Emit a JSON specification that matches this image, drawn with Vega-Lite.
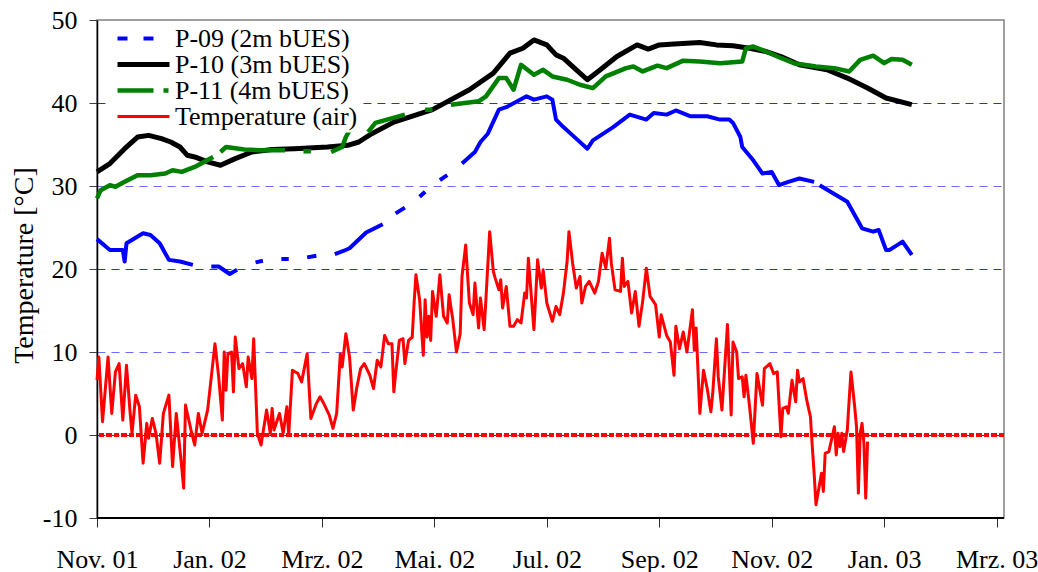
{
"$schema": "https://vega.github.io/schema/vega-lite/v6.json",
"autosize": "none",
"padding": {"left": 97, "top": 20, "right": 34, "bottom": 54},
"width": 907,
"height": 498,
"background": "white",
"config": {
  "font": "Liberation Serif, Times New Roman, Times, DejaVu Serif, serif",
  "view": {"stroke": "#808080", "strokeWidth": 1.5},
  "axis": {"labelFont": "Liberation Serif, Times New Roman, Times, DejaVu Serif, serif", "titleFont": "Liberation Serif, Times New Roman, Times, DejaVu Serif, serif", "labelColor": "black", "titleColor": "black", "titleFontWeight": "normal"}
},
"data": {"values": [
{"date":"2001-11-01","series":"P-09 (2m bUES)","temp":23.6},
{"date":"2001-11-08","series":"P-09 (2m bUES)","temp":22.3},
{"date":"2001-11-15","series":"P-09 (2m bUES)","temp":22.3},
{"date":"2001-11-16","series":"P-09 (2m bUES)","temp":20.9},
{"date":"2001-11-17","series":"P-09 (2m bUES)","temp":23.1},
{"date":"2001-11-26","series":"P-09 (2m bUES)","temp":24.3},
{"date":"2001-11-30","series":"P-09 (2m bUES)","temp":24.1},
{"date":"2001-12-05","series":"P-09 (2m bUES)","temp":23.1},
{"date":"2001-12-10","series":"P-09 (2m bUES)","temp":21.1},
{"date":"2001-12-16","series":"P-09 (2m bUES)","temp":20.9},
{"date":"2001-12-23","series":"P-09 (2m bUES)","temp":20.5},
{"date":"2001-12-28","series":"P-09 (2m bUES)","temp":null},
{"date":"2002-01-02","series":"P-09 (2m bUES)","temp":20.3},
{"date":"2002-01-06","series":"P-09 (2m bUES)","temp":20.3},
{"date":"2002-01-12","series":"P-09 (2m bUES)","temp":19.4},
{"date":"2002-01-16","series":"P-09 (2m bUES)","temp":19.9},
{"date":"2002-01-20","series":"P-09 (2m bUES)","temp":null},
{"date":"2002-01-26","series":"P-09 (2m bUES)","temp":20.8},
{"date":"2002-01-30","series":"P-09 (2m bUES)","temp":21.0},
{"date":"2002-02-03","series":"P-09 (2m bUES)","temp":null},
{"date":"2002-02-09","series":"P-09 (2m bUES)","temp":21.2},
{"date":"2002-02-13","series":"P-09 (2m bUES)","temp":21.2},
{"date":"2002-02-17","series":"P-09 (2m bUES)","temp":null},
{"date":"2002-02-23","series":"P-09 (2m bUES)","temp":21.4},
{"date":"2002-02-28","series":"P-09 (2m bUES)","temp":21.6},
{"date":"2002-03-03","series":"P-09 (2m bUES)","temp":null},
{"date":"2002-03-10","series":"P-09 (2m bUES)","temp":21.8},
{"date":"2002-03-15","series":"P-09 (2m bUES)","temp":22.2},
{"date":"2002-03-18","series":"P-09 (2m bUES)","temp":22.5},
{"date":"2002-03-27","series":"P-09 (2m bUES)","temp":24.4},
{"date":"2002-04-05","series":"P-09 (2m bUES)","temp":25.4},
{"date":"2002-04-08","series":"P-09 (2m bUES)","temp":null},
{"date":"2002-04-12","series":"P-09 (2m bUES)","temp":26.7},
{"date":"2002-04-17","series":"P-09 (2m bUES)","temp":27.4},
{"date":"2002-04-20","series":"P-09 (2m bUES)","temp":null},
{"date":"2002-04-25","series":"P-09 (2m bUES)","temp":28.7},
{"date":"2002-04-28","series":"P-09 (2m bUES)","temp":29.3},
{"date":"2002-05-01","series":"P-09 (2m bUES)","temp":null},
{"date":"2002-05-06","series":"P-09 (2m bUES)","temp":30.7},
{"date":"2002-05-10","series":"P-09 (2m bUES)","temp":31.3},
{"date":"2002-05-13","series":"P-09 (2m bUES)","temp":null},
{"date":"2002-05-18","series":"P-09 (2m bUES)","temp":32.7},
{"date":"2002-05-25","series":"P-09 (2m bUES)","temp":34.1},
{"date":"2002-05-28","series":"P-09 (2m bUES)","temp":35.3},
{"date":"2002-06-01","series":"P-09 (2m bUES)","temp":36.3},
{"date":"2002-06-07","series":"P-09 (2m bUES)","temp":39.2},
{"date":"2002-06-11","series":"P-09 (2m bUES)","temp":39.5},
{"date":"2002-06-17","series":"P-09 (2m bUES)","temp":40.2},
{"date":"2002-06-22","series":"P-09 (2m bUES)","temp":40.8},
{"date":"2002-06-26","series":"P-09 (2m bUES)","temp":40.4},
{"date":"2002-07-03","series":"P-09 (2m bUES)","temp":40.8},
{"date":"2002-07-06","series":"P-09 (2m bUES)","temp":40.4},
{"date":"2002-07-08","series":"P-09 (2m bUES)","temp":38.0},
{"date":"2002-07-12","series":"P-09 (2m bUES)","temp":37.1},
{"date":"2002-07-17","series":"P-09 (2m bUES)","temp":36.1},
{"date":"2002-07-25","series":"P-09 (2m bUES)","temp":34.5},
{"date":"2002-07-28","series":"P-09 (2m bUES)","temp":35.5},
{"date":"2002-08-08","series":"P-09 (2m bUES)","temp":37.1},
{"date":"2002-08-17","series":"P-09 (2m bUES)","temp":38.6},
{"date":"2002-08-26","series":"P-09 (2m bUES)","temp":38.0},
{"date":"2002-08-30","series":"P-09 (2m bUES)","temp":38.8},
{"date":"2002-09-06","series":"P-09 (2m bUES)","temp":38.6},
{"date":"2002-09-11","series":"P-09 (2m bUES)","temp":39.1},
{"date":"2002-09-19","series":"P-09 (2m bUES)","temp":38.4},
{"date":"2002-09-28","series":"P-09 (2m bUES)","temp":38.4},
{"date":"2002-10-05","series":"P-09 (2m bUES)","temp":38.0},
{"date":"2002-10-10","series":"P-09 (2m bUES)","temp":38.0},
{"date":"2002-10-12","series":"P-09 (2m bUES)","temp":37.6},
{"date":"2002-10-16","series":"P-09 (2m bUES)","temp":35.9},
{"date":"2002-10-17","series":"P-09 (2m bUES)","temp":34.7},
{"date":"2002-10-23","series":"P-09 (2m bUES)","temp":33.1},
{"date":"2002-10-28","series":"P-09 (2m bUES)","temp":31.5},
{"date":"2002-11-02","series":"P-09 (2m bUES)","temp":31.7},
{"date":"2002-11-06","series":"P-09 (2m bUES)","temp":30.1},
{"date":"2002-11-11","series":"P-09 (2m bUES)","temp":30.5},
{"date":"2002-11-17","series":"P-09 (2m bUES)","temp":30.9},
{"date":"2002-11-25","series":"P-09 (2m bUES)","temp":30.5},
{"date":"2002-11-26","series":"P-09 (2m bUES)","temp":null},
{"date":"2002-11-28","series":"P-09 (2m bUES)","temp":30.1},
{"date":"2002-12-13","series":"P-09 (2m bUES)","temp":28.1},
{"date":"2002-12-21","series":"P-09 (2m bUES)","temp":24.9},
{"date":"2002-12-27","series":"P-09 (2m bUES)","temp":24.5},
{"date":"2002-12-30","series":"P-09 (2m bUES)","temp":24.7},
{"date":"2003-01-03","series":"P-09 (2m bUES)","temp":22.3},
{"date":"2003-01-05","series":"P-09 (2m bUES)","temp":22.3},
{"date":"2003-01-12","series":"P-09 (2m bUES)","temp":23.3},
{"date":"2003-01-17","series":"P-09 (2m bUES)","temp":21.7},
{"date":"2001-11-01","series":"P-10 (3m bUES)","temp":31.7},
{"date":"2001-11-08","series":"P-10 (3m bUES)","temp":32.7},
{"date":"2001-11-16","series":"P-10 (3m bUES)","temp":34.5},
{"date":"2001-11-23","series":"P-10 (3m bUES)","temp":35.9},
{"date":"2001-11-29","series":"P-10 (3m bUES)","temp":36.1},
{"date":"2001-12-06","series":"P-10 (3m bUES)","temp":35.7},
{"date":"2001-12-11","series":"P-10 (3m bUES)","temp":35.3},
{"date":"2001-12-16","series":"P-10 (3m bUES)","temp":34.7},
{"date":"2001-12-20","series":"P-10 (3m bUES)","temp":33.7},
{"date":"2001-12-24","series":"P-10 (3m bUES)","temp":33.5},
{"date":"2001-12-31","series":"P-10 (3m bUES)","temp":32.9},
{"date":"2002-01-07","series":"P-10 (3m bUES)","temp":32.5},
{"date":"2002-01-15","series":"P-10 (3m bUES)","temp":33.3},
{"date":"2002-01-24","series":"P-10 (3m bUES)","temp":34.1},
{"date":"2002-02-04","series":"P-10 (3m bUES)","temp":34.4},
{"date":"2002-02-16","series":"P-10 (3m bUES)","temp":34.5},
{"date":"2002-03-06","series":"P-10 (3m bUES)","temp":34.7},
{"date":"2002-03-17","series":"P-10 (3m bUES)","temp":34.9},
{"date":"2002-03-23","series":"P-10 (3m bUES)","temp":35.3},
{"date":"2002-03-30","series":"P-10 (3m bUES)","temp":36.3},
{"date":"2002-04-11","series":"P-10 (3m bUES)","temp":37.7},
{"date":"2002-05-02","series":"P-10 (3m bUES)","temp":39.2},
{"date":"2002-05-22","series":"P-10 (3m bUES)","temp":41.6},
{"date":"2002-06-04","series":"P-10 (3m bUES)","temp":43.6},
{"date":"2002-06-13","series":"P-10 (3m bUES)","temp":46.0},
{"date":"2002-06-20","series":"P-10 (3m bUES)","temp":46.6},
{"date":"2002-06-26","series":"P-10 (3m bUES)","temp":47.6},
{"date":"2002-07-03","series":"P-10 (3m bUES)","temp":47.0},
{"date":"2002-07-08","series":"P-10 (3m bUES)","temp":45.8},
{"date":"2002-07-12","series":"P-10 (3m bUES)","temp":45.4},
{"date":"2002-07-19","series":"P-10 (3m bUES)","temp":44.0},
{"date":"2002-07-25","series":"P-10 (3m bUES)","temp":42.8},
{"date":"2002-08-01","series":"P-10 (3m bUES)","temp":44.0},
{"date":"2002-08-10","series":"P-10 (3m bUES)","temp":45.6},
{"date":"2002-08-21","series":"P-10 (3m bUES)","temp":47.0},
{"date":"2002-08-27","series":"P-10 (3m bUES)","temp":46.5},
{"date":"2002-09-02","series":"P-10 (3m bUES)","temp":47.0},
{"date":"2002-09-10","series":"P-10 (3m bUES)","temp":47.1},
{"date":"2002-09-24","series":"P-10 (3m bUES)","temp":47.3},
{"date":"2002-10-03","series":"P-10 (3m bUES)","temp":47.0},
{"date":"2002-10-12","series":"P-10 (3m bUES)","temp":46.9},
{"date":"2002-10-21","series":"P-10 (3m bUES)","temp":46.6},
{"date":"2002-10-30","series":"P-10 (3m bUES)","temp":46.2},
{"date":"2002-11-07","series":"P-10 (3m bUES)","temp":45.6},
{"date":"2002-11-17","series":"P-10 (3m bUES)","temp":44.6},
{"date":"2002-12-02","series":"P-10 (3m bUES)","temp":44.0},
{"date":"2002-12-13","series":"P-10 (3m bUES)","temp":43.0},
{"date":"2002-12-24","series":"P-10 (3m bUES)","temp":41.8},
{"date":"2003-01-03","series":"P-10 (3m bUES)","temp":40.6},
{"date":"2003-01-17","series":"P-10 (3m bUES)","temp":39.8},
{"date":"2001-11-01","series":"P-11 (4m bUES)","temp":28.5},
{"date":"2001-11-03","series":"P-11 (4m bUES)","temp":29.5},
{"date":"2001-11-08","series":"P-11 (4m bUES)","temp":30.1},
{"date":"2001-11-11","series":"P-11 (4m bUES)","temp":29.9},
{"date":"2001-11-16","series":"P-11 (4m bUES)","temp":30.5},
{"date":"2001-11-23","series":"P-11 (4m bUES)","temp":31.3},
{"date":"2001-11-30","series":"P-11 (4m bUES)","temp":31.3},
{"date":"2001-12-08","series":"P-11 (4m bUES)","temp":31.5},
{"date":"2001-12-12","series":"P-11 (4m bUES)","temp":31.9},
{"date":"2001-12-17","series":"P-11 (4m bUES)","temp":31.7},
{"date":"2001-12-24","series":"P-11 (4m bUES)","temp":32.3},
{"date":"2002-01-03","series":"P-11 (4m bUES)","temp":33.5},
{"date":"2002-01-05","series":"P-11 (4m bUES)","temp":null},
{"date":"2002-01-07","series":"P-11 (4m bUES)","temp":34.1},
{"date":"2002-01-10","series":"P-11 (4m bUES)","temp":34.7},
{"date":"2002-01-20","series":"P-11 (4m bUES)","temp":34.4},
{"date":"2002-01-29","series":"P-11 (4m bUES)","temp":34.3},
{"date":"2002-02-11","series":"P-11 (4m bUES)","temp":34.3},
{"date":"2002-02-12","series":"P-11 (4m bUES)","temp":null},
{"date":"2002-02-21","series":"P-11 (4m bUES)","temp":34.2},
{"date":"2002-02-25","series":"P-11 (4m bUES)","temp":34.2},
{"date":"2002-02-26","series":"P-11 (4m bUES)","temp":null},
{"date":"2002-03-08","series":"P-11 (4m bUES)","temp":34.1},
{"date":"2002-03-14","series":"P-11 (4m bUES)","temp":34.7},
{"date":"2002-03-16","series":"P-11 (4m bUES)","temp":35.9},
{"date":"2002-03-18","series":"P-11 (4m bUES)","temp":36.7},
{"date":"2002-03-20","series":"P-11 (4m bUES)","temp":null},
{"date":"2002-03-28","series":"P-11 (4m bUES)","temp":36.5},
{"date":"2002-04-01","series":"P-11 (4m bUES)","temp":37.6},
{"date":"2002-04-17","series":"P-11 (4m bUES)","temp":38.6},
{"date":"2002-04-20","series":"P-11 (4m bUES)","temp":null},
{"date":"2002-04-28","series":"P-11 (4m bUES)","temp":39.2},
{"date":"2002-05-02","series":"P-11 (4m bUES)","temp":39.2},
{"date":"2002-05-05","series":"P-11 (4m bUES)","temp":null},
{"date":"2002-05-12","series":"P-11 (4m bUES)","temp":39.8},
{"date":"2002-05-27","series":"P-11 (4m bUES)","temp":40.2},
{"date":"2002-05-31","series":"P-11 (4m bUES)","temp":40.8},
{"date":"2002-06-07","series":"P-11 (4m bUES)","temp":43.0},
{"date":"2002-06-11","series":"P-11 (4m bUES)","temp":43.0},
{"date":"2002-06-15","series":"P-11 (4m bUES)","temp":41.6},
{"date":"2002-06-19","series":"P-11 (4m bUES)","temp":44.6},
{"date":"2002-06-26","series":"P-11 (4m bUES)","temp":43.4},
{"date":"2002-07-01","series":"P-11 (4m bUES)","temp":44.0},
{"date":"2002-07-06","series":"P-11 (4m bUES)","temp":43.2},
{"date":"2002-07-14","series":"P-11 (4m bUES)","temp":42.8},
{"date":"2002-07-21","series":"P-11 (4m bUES)","temp":42.2},
{"date":"2002-07-28","series":"P-11 (4m bUES)","temp":41.8},
{"date":"2002-08-04","series":"P-11 (4m bUES)","temp":43.2},
{"date":"2002-08-15","series":"P-11 (4m bUES)","temp":44.2},
{"date":"2002-08-19","series":"P-11 (4m bUES)","temp":44.4},
{"date":"2002-08-24","series":"P-11 (4m bUES)","temp":43.8},
{"date":"2002-09-01","series":"P-11 (4m bUES)","temp":44.5},
{"date":"2002-09-06","series":"P-11 (4m bUES)","temp":44.2},
{"date":"2002-09-15","series":"P-11 (4m bUES)","temp":45.1},
{"date":"2002-09-24","series":"P-11 (4m bUES)","temp":45.0},
{"date":"2002-10-05","series":"P-11 (4m bUES)","temp":44.8},
{"date":"2002-10-17","series":"P-11 (4m bUES)","temp":45.0},
{"date":"2002-10-19","series":"P-11 (4m bUES)","temp":46.6},
{"date":"2002-10-23","series":"P-11 (4m bUES)","temp":46.8},
{"date":"2002-10-30","series":"P-11 (4m bUES)","temp":46.2},
{"date":"2002-11-05","series":"P-11 (4m bUES)","temp":45.6},
{"date":"2002-11-14","series":"P-11 (4m bUES)","temp":44.8},
{"date":"2002-11-26","series":"P-11 (4m bUES)","temp":44.4},
{"date":"2002-12-06","series":"P-11 (4m bUES)","temp":44.2},
{"date":"2002-12-14","series":"P-11 (4m bUES)","temp":43.8},
{"date":"2002-12-20","series":"P-11 (4m bUES)","temp":45.2},
{"date":"2002-12-27","series":"P-11 (4m bUES)","temp":45.7},
{"date":"2003-01-02","series":"P-11 (4m bUES)","temp":44.8},
{"date":"2003-01-06","series":"P-11 (4m bUES)","temp":45.3},
{"date":"2003-01-12","series":"P-11 (4m bUES)","temp":45.2},
{"date":"2003-01-17","series":"P-11 (4m bUES)","temp":44.6},
{"date":"2001-11-01","series":"Temperature (air)","temp":6.6},
{"date":"2001-11-02","series":"Temperature (air)","temp":9.4},
{"date":"2001-11-04","series":"Temperature (air)","temp":1.6},
{"date":"2001-11-07","series":"Temperature (air)","temp":9.4},
{"date":"2001-11-09","series":"Temperature (air)","temp":2.6},
{"date":"2001-11-11","series":"Temperature (air)","temp":7.6},
{"date":"2001-11-13","series":"Temperature (air)","temp":8.6},
{"date":"2001-11-15","series":"Temperature (air)","temp":1.8},
{"date":"2001-11-17","series":"Temperature (air)","temp":8.4},
{"date":"2001-11-19","series":"Temperature (air)","temp":2.6},
{"date":"2001-11-20","series":"Temperature (air)","temp":0.2},
{"date":"2001-11-22","series":"Temperature (air)","temp":4.8},
{"date":"2001-11-24","series":"Temperature (air)","temp":3.4},
{"date":"2001-11-26","series":"Temperature (air)","temp":-3.4},
{"date":"2001-11-28","series":"Temperature (air)","temp":1.4},
{"date":"2001-11-29","series":"Temperature (air)","temp":-0.4},
{"date":"2001-12-01","series":"Temperature (air)","temp":2.0},
{"date":"2001-12-03","series":"Temperature (air)","temp":0.2},
{"date":"2001-12-05","series":"Temperature (air)","temp":-3.4},
{"date":"2001-12-07","series":"Temperature (air)","temp":2.6},
{"date":"2001-12-10","series":"Temperature (air)","temp":4.8},
{"date":"2001-12-12","series":"Temperature (air)","temp":-3.8},
{"date":"2001-12-14","series":"Temperature (air)","temp":2.6},
{"date":"2001-12-17","series":"Temperature (air)","temp":-4.0},
{"date":"2001-12-18","series":"Temperature (air)","temp":-6.4},
{"date":"2001-12-19","series":"Temperature (air)","temp":3.6},
{"date":"2001-12-22","series":"Temperature (air)","temp":0.6},
{"date":"2001-12-24","series":"Temperature (air)","temp":-1.2},
{"date":"2001-12-26","series":"Temperature (air)","temp":2.6},
{"date":"2001-12-28","series":"Temperature (air)","temp":0.2},
{"date":"2001-12-31","series":"Temperature (air)","temp":3.0},
{"date":"2002-01-04","series":"Temperature (air)","temp":11.0},
{"date":"2002-01-06","series":"Temperature (air)","temp":7.0},
{"date":"2002-01-08","series":"Temperature (air)","temp":1.8},
{"date":"2002-01-09","series":"Temperature (air)","temp":10.0},
{"date":"2002-01-10","series":"Temperature (air)","temp":5.4},
{"date":"2002-01-11","series":"Temperature (air)","temp":9.8},
{"date":"2002-01-13","series":"Temperature (air)","temp":10.0},
{"date":"2002-01-14","series":"Temperature (air)","temp":5.2},
{"date":"2002-01-15","series":"Temperature (air)","temp":11.8},
{"date":"2002-01-17","series":"Temperature (air)","temp":8.0},
{"date":"2002-01-19","series":"Temperature (air)","temp":8.6},
{"date":"2002-01-21","series":"Temperature (air)","temp":5.8},
{"date":"2002-01-22","series":"Temperature (air)","temp":9.4},
{"date":"2002-01-24","series":"Temperature (air)","temp":6.8},
{"date":"2002-01-25","series":"Temperature (air)","temp":11.6},
{"date":"2002-01-27","series":"Temperature (air)","temp":0.2},
{"date":"2002-01-29","series":"Temperature (air)","temp":-1.2},
{"date":"2002-02-01","series":"Temperature (air)","temp":3.0},
{"date":"2002-02-03","series":"Temperature (air)","temp":0.2},
{"date":"2002-02-04","series":"Temperature (air)","temp":3.2},
{"date":"2002-02-05","series":"Temperature (air)","temp":0.6},
{"date":"2002-02-08","series":"Temperature (air)","temp":2.6},
{"date":"2002-02-10","series":"Temperature (air)","temp":0.2},
{"date":"2002-02-12","series":"Temperature (air)","temp":3.4},
{"date":"2002-02-13","series":"Temperature (air)","temp":0.0},
{"date":"2002-02-15","series":"Temperature (air)","temp":7.8},
{"date":"2002-02-18","series":"Temperature (air)","temp":7.4},
{"date":"2002-02-20","series":"Temperature (air)","temp":6.4},
{"date":"2002-02-23","series":"Temperature (air)","temp":9.8},
{"date":"2002-02-25","series":"Temperature (air)","temp":2.0},
{"date":"2002-02-28","series":"Temperature (air)","temp":3.8},
{"date":"2002-03-02","series":"Temperature (air)","temp":4.6},
{"date":"2002-03-04","series":"Temperature (air)","temp":3.8},
{"date":"2002-03-07","series":"Temperature (air)","temp":2.4},
{"date":"2002-03-09","series":"Temperature (air)","temp":0.8},
{"date":"2002-03-11","series":"Temperature (air)","temp":2.6},
{"date":"2002-03-13","series":"Temperature (air)","temp":9.8},
{"date":"2002-03-14","series":"Temperature (air)","temp":8.2},
{"date":"2002-03-16","series":"Temperature (air)","temp":12.2},
{"date":"2002-03-18","series":"Temperature (air)","temp":9.4},
{"date":"2002-03-20","series":"Temperature (air)","temp":3.0},
{"date":"2002-03-22","series":"Temperature (air)","temp":5.8},
{"date":"2002-03-24","series":"Temperature (air)","temp":8.0},
{"date":"2002-03-26","series":"Temperature (air)","temp":8.6},
{"date":"2002-03-29","series":"Temperature (air)","temp":7.2},
{"date":"2002-03-31","series":"Temperature (air)","temp":5.6},
{"date":"2002-04-02","series":"Temperature (air)","temp":9.0},
{"date":"2002-04-04","series":"Temperature (air)","temp":8.2},
{"date":"2002-04-06","series":"Temperature (air)","temp":12.0},
{"date":"2002-04-08","series":"Temperature (air)","temp":11.0},
{"date":"2002-04-10","series":"Temperature (air)","temp":11.0},
{"date":"2002-04-11","series":"Temperature (air)","temp":5.2},
{"date":"2002-04-12","series":"Temperature (air)","temp":7.4},
{"date":"2002-04-14","series":"Temperature (air)","temp":11.4},
{"date":"2002-04-16","series":"Temperature (air)","temp":11.6},
{"date":"2002-04-17","series":"Temperature (air)","temp":8.6},
{"date":"2002-04-19","series":"Temperature (air)","temp":11.4},
{"date":"2002-04-21","series":"Temperature (air)","temp":11.8},
{"date":"2002-04-22","series":"Temperature (air)","temp":15.9},
{"date":"2002-04-23","series":"Temperature (air)","temp":19.3},
{"date":"2002-04-25","series":"Temperature (air)","temp":16.3},
{"date":"2002-04-27","series":"Temperature (air)","temp":9.6},
{"date":"2002-04-28","series":"Temperature (air)","temp":16.3},
{"date":"2002-04-29","series":"Temperature (air)","temp":11.8},
{"date":"2002-04-30","series":"Temperature (air)","temp":14.3},
{"date":"2002-05-01","series":"Temperature (air)","temp":11.4},
{"date":"2002-05-02","series":"Temperature (air)","temp":17.3},
{"date":"2002-05-04","series":"Temperature (air)","temp":14.3},
{"date":"2002-05-06","series":"Temperature (air)","temp":19.3},
{"date":"2002-05-08","series":"Temperature (air)","temp":14.3},
{"date":"2002-05-10","series":"Temperature (air)","temp":13.5},
{"date":"2002-05-11","series":"Temperature (air)","temp":16.9},
{"date":"2002-05-13","series":"Temperature (air)","temp":13.9},
{"date":"2002-05-15","series":"Temperature (air)","temp":10.0},
{"date":"2002-05-17","series":"Temperature (air)","temp":12.2},
{"date":"2002-05-18","series":"Temperature (air)","temp":19.1},
{"date":"2002-05-20","series":"Temperature (air)","temp":22.9},
{"date":"2002-05-22","series":"Temperature (air)","temp":15.9},
{"date":"2002-05-24","series":"Temperature (air)","temp":14.5},
{"date":"2002-05-25","series":"Temperature (air)","temp":18.3},
{"date":"2002-05-27","series":"Temperature (air)","temp":12.9},
{"date":"2002-05-28","series":"Temperature (air)","temp":16.5},
{"date":"2002-05-30","series":"Temperature (air)","temp":12.7},
{"date":"2002-05-31","series":"Temperature (air)","temp":16.5},
{"date":"2002-06-02","series":"Temperature (air)","temp":24.5},
{"date":"2002-06-04","series":"Temperature (air)","temp":19.7},
{"date":"2002-06-05","series":"Temperature (air)","temp":18.9},
{"date":"2002-06-07","series":"Temperature (air)","temp":17.5},
{"date":"2002-06-08","series":"Temperature (air)","temp":18.7},
{"date":"2002-06-09","series":"Temperature (air)","temp":15.3},
{"date":"2002-06-11","series":"Temperature (air)","temp":17.9},
{"date":"2002-06-13","series":"Temperature (air)","temp":13.1},
{"date":"2002-06-15","series":"Temperature (air)","temp":13.1},
{"date":"2002-06-17","series":"Temperature (air)","temp":13.9},
{"date":"2002-06-19","series":"Temperature (air)","temp":13.5},
{"date":"2002-06-21","series":"Temperature (air)","temp":17.1},
{"date":"2002-06-22","series":"Temperature (air)","temp":16.5},
{"date":"2002-06-23","series":"Temperature (air)","temp":21.3},
{"date":"2002-06-26","series":"Temperature (air)","temp":12.7},
{"date":"2002-06-28","series":"Temperature (air)","temp":21.1},
{"date":"2002-06-30","series":"Temperature (air)","temp":17.7},
{"date":"2002-07-01","series":"Temperature (air)","temp":19.9},
{"date":"2002-07-03","series":"Temperature (air)","temp":15.9},
{"date":"2002-07-06","series":"Temperature (air)","temp":13.7},
{"date":"2002-07-08","series":"Temperature (air)","temp":15.5},
{"date":"2002-07-10","series":"Temperature (air)","temp":14.5},
{"date":"2002-07-12","series":"Temperature (air)","temp":17.1},
{"date":"2002-07-14","series":"Temperature (air)","temp":20.9},
{"date":"2002-07-15","series":"Temperature (air)","temp":24.5},
{"date":"2002-07-17","series":"Temperature (air)","temp":20.7},
{"date":"2002-07-19","series":"Temperature (air)","temp":17.7},
{"date":"2002-07-21","series":"Temperature (air)","temp":19.1},
{"date":"2002-07-22","series":"Temperature (air)","temp":15.9},
{"date":"2002-07-24","series":"Temperature (air)","temp":17.9},
{"date":"2002-07-26","series":"Temperature (air)","temp":18.5},
{"date":"2002-07-29","series":"Temperature (air)","temp":17.1},
{"date":"2002-07-31","series":"Temperature (air)","temp":18.5},
{"date":"2002-08-02","series":"Temperature (air)","temp":21.9},
{"date":"2002-08-04","series":"Temperature (air)","temp":20.1},
{"date":"2002-08-06","series":"Temperature (air)","temp":23.7},
{"date":"2002-08-07","series":"Temperature (air)","temp":20.7},
{"date":"2002-08-09","series":"Temperature (air)","temp":17.5},
{"date":"2002-08-12","series":"Temperature (air)","temp":17.3},
{"date":"2002-08-13","series":"Temperature (air)","temp":21.3},
{"date":"2002-08-14","series":"Temperature (air)","temp":17.9},
{"date":"2002-08-16","series":"Temperature (air)","temp":18.5},
{"date":"2002-08-18","series":"Temperature (air)","temp":14.7},
{"date":"2002-08-20","series":"Temperature (air)","temp":17.3},
{"date":"2002-08-22","series":"Temperature (air)","temp":13.1},
{"date":"2002-08-24","series":"Temperature (air)","temp":16.1},
{"date":"2002-08-26","series":"Temperature (air)","temp":20.1},
{"date":"2002-08-28","series":"Temperature (air)","temp":16.7},
{"date":"2002-08-31","series":"Temperature (air)","temp":15.7},
{"date":"2002-09-02","series":"Temperature (air)","temp":11.8},
{"date":"2002-09-03","series":"Temperature (air)","temp":14.5},
{"date":"2002-09-04","series":"Temperature (air)","temp":13.7},
{"date":"2002-09-06","series":"Temperature (air)","temp":12.0},
{"date":"2002-09-08","series":"Temperature (air)","temp":11.2},
{"date":"2002-09-10","series":"Temperature (air)","temp":7.2},
{"date":"2002-09-11","series":"Temperature (air)","temp":13.1},
{"date":"2002-09-13","series":"Temperature (air)","temp":10.4},
{"date":"2002-09-15","series":"Temperature (air)","temp":12.4},
{"date":"2002-09-17","series":"Temperature (air)","temp":10.0},
{"date":"2002-09-20","series":"Temperature (air)","temp":15.1},
{"date":"2002-09-21","series":"Temperature (air)","temp":10.2},
{"date":"2002-09-22","series":"Temperature (air)","temp":12.9},
{"date":"2002-09-24","series":"Temperature (air)","temp":2.6},
{"date":"2002-09-26","series":"Temperature (air)","temp":7.8},
{"date":"2002-09-28","series":"Temperature (air)","temp":5.6},
{"date":"2002-09-30","series":"Temperature (air)","temp":2.8},
{"date":"2002-10-01","series":"Temperature (air)","temp":5.0},
{"date":"2002-10-03","series":"Temperature (air)","temp":11.6},
{"date":"2002-10-04","series":"Temperature (air)","temp":7.0},
{"date":"2002-10-06","series":"Temperature (air)","temp":3.0},
{"date":"2002-10-09","series":"Temperature (air)","temp":13.3},
{"date":"2002-10-11","series":"Temperature (air)","temp":2.4},
{"date":"2002-10-12","series":"Temperature (air)","temp":11.2},
{"date":"2002-10-14","series":"Temperature (air)","temp":10.0},
{"date":"2002-10-15","series":"Temperature (air)","temp":6.8},
{"date":"2002-10-17","series":"Temperature (air)","temp":7.0},
{"date":"2002-10-18","series":"Temperature (air)","temp":4.6},
{"date":"2002-10-19","series":"Temperature (air)","temp":7.2},
{"date":"2002-10-21","series":"Temperature (air)","temp":3.4},
{"date":"2002-10-23","series":"Temperature (air)","temp":-1.0},
{"date":"2002-10-25","series":"Temperature (air)","temp":7.4},
{"date":"2002-10-28","series":"Temperature (air)","temp":3.6},
{"date":"2002-10-29","series":"Temperature (air)","temp":8.0},
{"date":"2002-11-01","series":"Temperature (air)","temp":8.6},
{"date":"2002-11-03","series":"Temperature (air)","temp":7.4},
{"date":"2002-11-05","series":"Temperature (air)","temp":7.6},
{"date":"2002-11-07","series":"Temperature (air)","temp":-0.2},
{"date":"2002-11-08","series":"Temperature (air)","temp":3.2},
{"date":"2002-11-10","series":"Temperature (air)","temp":3.4},
{"date":"2002-11-11","series":"Temperature (air)","temp":2.6},
{"date":"2002-11-13","series":"Temperature (air)","temp":6.6},
{"date":"2002-11-15","series":"Temperature (air)","temp":4.0},
{"date":"2002-11-16","series":"Temperature (air)","temp":7.8},
{"date":"2002-11-17","series":"Temperature (air)","temp":6.4},
{"date":"2002-11-19","series":"Temperature (air)","temp":6.8},
{"date":"2002-11-21","series":"Temperature (air)","temp":4.2},
{"date":"2002-11-23","series":"Temperature (air)","temp":2.2},
{"date":"2002-11-24","series":"Temperature (air)","temp":-1.4},
{"date":"2002-11-25","series":"Temperature (air)","temp":-4.6},
{"date":"2002-11-26","series":"Temperature (air)","temp":-8.4},
{"date":"2002-11-29","series":"Temperature (air)","temp":-4.6},
{"date":"2002-11-30","series":"Temperature (air)","temp":-6.8},
{"date":"2002-12-01","series":"Temperature (air)","temp":-2.2},
{"date":"2002-12-03","series":"Temperature (air)","temp":-2.0},
{"date":"2002-12-04","series":"Temperature (air)","temp":-1.0},
{"date":"2002-12-06","series":"Temperature (air)","temp":1.0},
{"date":"2002-12-07","series":"Temperature (air)","temp":-2.4},
{"date":"2002-12-08","series":"Temperature (air)","temp":0.2},
{"date":"2002-12-09","series":"Temperature (air)","temp":-1.4},
{"date":"2002-12-10","series":"Temperature (air)","temp":0.2},
{"date":"2002-12-11","series":"Temperature (air)","temp":-2.0},
{"date":"2002-12-13","series":"Temperature (air)","temp":0.6},
{"date":"2002-12-14","series":"Temperature (air)","temp":4.2},
{"date":"2002-12-15","series":"Temperature (air)","temp":7.6},
{"date":"2002-12-17","series":"Temperature (air)","temp":3.4},
{"date":"2002-12-18","series":"Temperature (air)","temp":1.0},
{"date":"2002-12-19","series":"Temperature (air)","temp":-7.0},
{"date":"2002-12-20","series":"Temperature (air)","temp":0.2},
{"date":"2002-12-21","series":"Temperature (air)","temp":1.4},
{"date":"2002-12-22","series":"Temperature (air)","temp":-1.0},
{"date":"2002-12-23","series":"Temperature (air)","temp":-7.6},
{"date":"2002-12-24","series":"Temperature (air)","temp":-0.8}
]},
"layer": [
  {
    "mark": {"type": "rule", "color": "#ff0000", "strokeWidth": 4, "strokeDash": [5, 2.5]},
    "encoding": {"y": {"datum": 0, "type": "quantitative"}}
  },
  {
    "mark": {"type": "rule", "color": "#000000", "strokeWidth": 1.5},
    "encoding": {"y": {"datum": -10, "type": "quantitative"}}
  },
  {
    "mark": {"type": "line", "invalid": "break-paths-filter-domains", "strokeJoin": "round"},
    "encoding": {
      "x": {"field": "date", "type": "temporal",
        "scale": {"type": "utc", "domain": [{"year": 2001, "month": 11, "date": 1, "utc": true}, {"year": 2003, "month": 3, "date": 8, "utc": true}]},
        "axis": {
          "title": null,
          "values": [
            {"year": 2001, "month": 11, "date": 1, "utc": true},
            {"year": 2002, "month": 1, "date": 1, "utc": true},
            {"year": 2002, "month": 3, "date": 3, "utc": true},
            {"year": 2002, "month": 5, "date": 3, "utc": true},
            {"year": 2002, "month": 7, "date": 3, "utc": true},
            {"year": 2002, "month": 9, "date": 2, "utc": true},
            {"year": 2002, "month": 11, "date": 2, "utc": true},
            {"year": 2003, "month": 1, "date": 2, "utc": true},
            {"year": 2003, "month": 3, "date": 4, "utc": true}
          ],
          "labelExpr": "['Jan.','Feb.','Mrz.','Apr.','Mai.','Jun.','Jul.','Aug.','Sep.','Okt.','Nov.','Dez.'][utcmonth(datum.value)] + ' ' + utcFormat(datum.value, '%y')",
          "labelFontSize": 26,
          "labelBaseline": "alphabetic",
          "labelPadding": 40,
          "labelOverlap": false,
          "labelFlush": false,
          "tickSize": 9,
          "tickColor": "#303030",
          "tickWidth": 1,
          "domain": false,
          "grid": false,
          "encode": {"ticks": {"update": {"y": {"value": -9}, "y2": {"value": 9}}}}
        }
      },
      "y": {"field": "temp", "type": "quantitative",
        "scale": {"domain": [-10, 50], "nice": false, "zero": false},
        "axis": {
          "values": [-10, 0, 10, 20, 30, 40, 50],
          "labelExpr": "'' + datum.value",
          "title": "Temperature [°C]",
          "titleFontSize": 28,
          "titleAngle": 270,
          "titleX": -64.5,
          "titleY": 245,
          "titleAlign": "center",
          "titleBaseline": "alphabetic",
          "labelFontSize": 26,
          "labelPadding": 12,
          "tickSize": 8,
          "tickColor": "#404040",
          "domainColor": "#000000",
          "domainWidth": 1.5,
          "grid": true,
          "gridDash": [8, 6],
          "gridWidth": 1,
          "gridColor": {"condition": {"test": "datum.value == 10 || datum.value == 30", "value": "#6b6bff"}, "value": "#2a2af0"},
          "gridOpacity": {"condition": {"test": "datum.value == 50 || datum.value == -10", "value": 0}, "value": 1}
        }
      },
      "color": {"field": "series", "type": "nominal",
        "scale": {"domain": ["P-09 (2m bUES)", "P-10 (3m bUES)", "P-11 (4m bUES)", "Temperature (air)"], "range": ["#0000ff", "#000000", "#008000", "#ff0000"]},
        "legend": {
          "title": null, "orient": "none", "legendX": 11, "legendY": 2.5,
          "fillColor": "white", "padding": 3,
          "labelFont": "Liberation Serif, Times New Roman, Times, DejaVu Serif, serif",
          "labelFontSize": 26, "labelColor": "black", "labelOffset": 38, "labelLimit": 400,
          "symbolType": "M-1,0H7", "symbolSize": 169, "symbolFillColor": "transparent", "symbolStrokeWidth": 5,
          "rowPadding": -4,
          "encode": {"symbols": {"update": {
            "strokeDash": {"signal": "datum.value == 'P-09 (2m bUES)' ? [10, 16] : datum.value == 'P-11 (4m bUES)' ? [36, 10, 5, 10] : [1, 0]"},
            "strokeWidth": {"signal": "datum.value == 'Temperature (air)' ? 3 : datum.value == 'P-09 (2m bUES)' ? 4.5 : 5.5"}
          }}}
        }
      },
      "strokeWidth": {"field": "series", "type": "nominal",
        "scale": {"type": "ordinal", "domain": ["P-09 (2m bUES)", "P-10 (3m bUES)", "P-11 (4m bUES)", "Temperature (air)"], "range": [4, 5, 4.5, 3]},
        "legend": null
      }
    }
  }
]
}
